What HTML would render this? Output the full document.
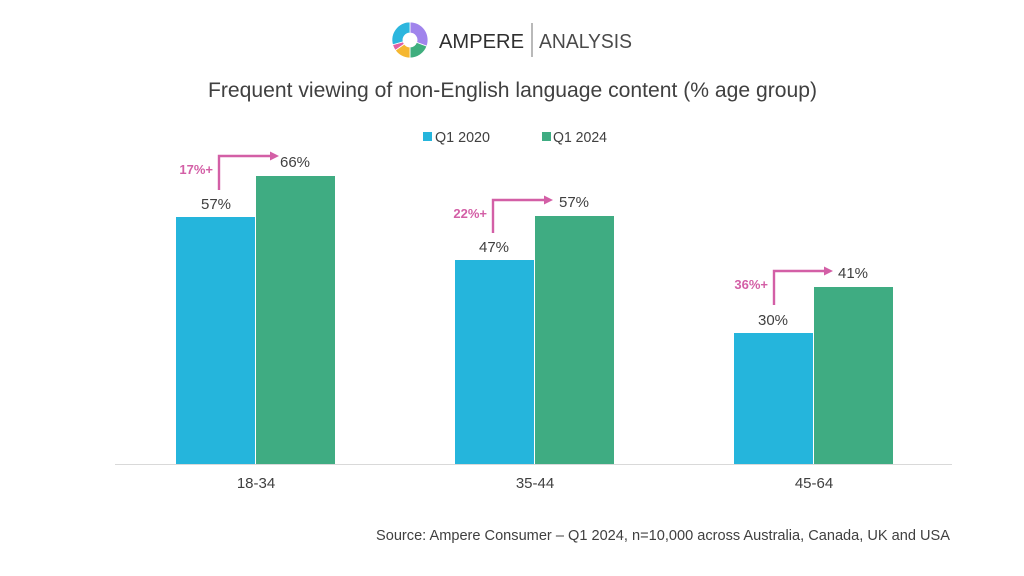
<!DOCTYPE html>
<html>
<head>
<meta charset="utf-8">
<style>
  html,body{margin:0;padding:0;background:#fff;}
  svg{display:block;}
  text{font-family:"Liberation Sans",Arial,sans-serif;}
</style>
</head>
<body>
<svg width="1024" height="576" viewBox="0 0 1024 576" xmlns="http://www.w3.org/2000/svg">
  <rect width="1024" height="576" fill="#ffffff"/>

  <!-- Logo donut -->
  <g stroke="#ffffff" stroke-width="0.8">
    <path d="M410,22 A18,18 0 0 1 426.9,46.2 L416.6,42.4 A7,7 0 0 0 410,33 Z" fill="#a084ec"/>
    <path d="M426.9,46.2 A18,18 0 0 1 410,58 L410,47 A7,7 0 0 0 416.6,42.4 Z" fill="#3fae7e"/>
    <path d="M410,58 A18,18 0 0 1 395.3,50.3 L404.3,44.0 A7,7 0 0 0 410,47 Z" fill="#f5b731"/>
    <path d="M395.3,50.3 A18,18 0 0 1 392.6,44.7 L403.2,41.8 A7,7 0 0 0 404.3,44.0 Z" fill="#e060a4"/>
    <path d="M392.6,44.7 A18,18 0 0 1 410,22 L410,33 A7,7 0 0 0 403.2,41.8 Z" fill="#2cb6de"/>
  </g>
  <text x="439" y="48" font-size="20" fill="#2f2f2f" textLength="85" lengthAdjust="spacingAndGlyphs">AMPERE</text>
  <line x1="532" y1="23" x2="532" y2="57" stroke="#8a8a8a" stroke-width="1.2"/>
  <text x="539" y="48" font-size="20" fill="#4a4a4a" textLength="93" lengthAdjust="spacingAndGlyphs">ANALYSIS</text>

  <!-- Title -->
  <text x="208" y="97" font-size="21" fill="#404040" textLength="609" lengthAdjust="spacingAndGlyphs">Frequent viewing of non-English language content (% age group)</text>

  <!-- Legend -->
  <rect x="423" y="132" width="9" height="9" fill="#25b5dc"/>
  <text x="435" y="142" font-size="15" fill="#404040" textLength="55" lengthAdjust="spacingAndGlyphs">Q1 2020</text>
  <rect x="542" y="132" width="9" height="9" fill="#3fac82"/>
  <text x="553" y="142" font-size="15" fill="#404040" textLength="54" lengthAdjust="spacingAndGlyphs">Q1 2024</text>

  <!-- Bars -->
  <rect x="176" y="217" width="79" height="247" fill="#25b5dc"/>
  <rect x="256" y="176" width="79" height="288" fill="#3fac82"/>
  <rect x="455" y="260" width="79" height="204" fill="#25b5dc"/>
  <rect x="535" y="216" width="79" height="248" fill="#3fac82"/>
  <rect x="734" y="333" width="79" height="131" fill="#25b5dc"/>
  <rect x="814" y="287" width="79" height="177" fill="#3fac82"/>

  <!-- Axis -->
  <line x1="115" y1="464.5" x2="952" y2="464.5" stroke="#d9d9d9" stroke-width="1"/>

  <!-- Data labels -->
  <g font-size="15" fill="#404040" text-anchor="middle">
    <text x="216" y="209">57%</text>
    <text x="295" y="167">66%</text>
    <text x="494" y="252">47%</text>
    <text x="574" y="207">57%</text>
    <text x="773" y="325">30%</text>
    <text x="853" y="278">41%</text>
  </g>

  <!-- Category labels -->
  <g font-size="15" fill="#404040" text-anchor="middle">
    <text x="256" y="488">18-34</text>
    <text x="535" y="488">35-44</text>
    <text x="814" y="488">45-64</text>
  </g>

  <!-- Growth arrows -->
  <g stroke="#d35fa6" stroke-width="2.4" fill="none">
    <polyline points="219,190 219,156 272,156"/>
    <polyline points="493,233 493,200 546,200"/>
    <polyline points="774,305 774,271 826,271"/>
  </g>
  <g fill="#d35fa6">
    <polygon points="270,151.5 279,156 270,160.5"/>
    <polygon points="544,195.5 553,200 544,204.5"/>
    <polygon points="824,266.5 833,271 824,275.5"/>
  </g>
  <g font-size="13" font-weight="bold" fill="#d35fa6" text-anchor="end">
    <text x="213" y="174">17%+</text>
    <text x="487" y="218">22%+</text>
    <text x="768" y="289">36%+</text>
  </g>

  <!-- Source -->
  <text x="376" y="540" font-size="15" fill="#404040" textLength="574" lengthAdjust="spacingAndGlyphs">Source: Ampere Consumer – Q1 2024, n=10,000 across Australia, Canada, UK and USA</text>
</svg>
</body>
</html>
